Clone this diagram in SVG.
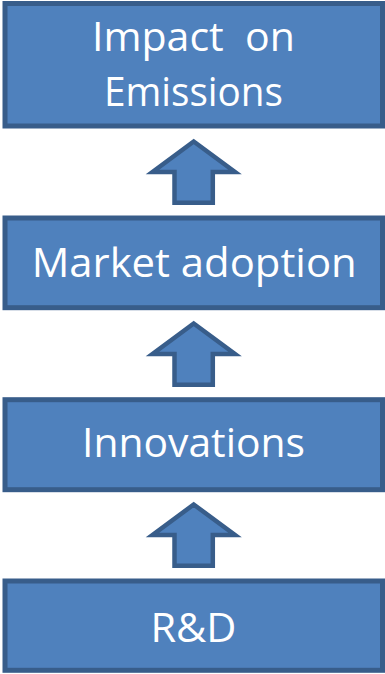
<svg xmlns="http://www.w3.org/2000/svg" xmlns:xlink="http://www.w3.org/1999/xlink" width="385" height="674" viewBox="0 0 385 674">
<style>
.box{fill:#4F81BD;stroke:#385D8A;stroke-width:5}
.arrow{fill:#4F81BD;stroke:#385D8A;stroke-width:4.5;stroke-linejoin:miter}
.lbl{fill:#FFFFFF;font-family:"Open Sans","Liberation Sans",sans-serif;font-size:40px;text-anchor:middle;white-space:pre}
</style>
<defs>
<path id="uparrow" d="M193.7,141.5 L235,172 L212.8,172 L212.8,202.7 L174.5,202.7 L174.5,172 L152.5,172 Z"/>
</defs>
<g id="connectors">
<use xlink:href="#uparrow" class="arrow"/>
<use xlink:href="#uparrow" class="arrow" transform="translate(0,182)"/>
<use xlink:href="#uparrow" class="arrow" transform="translate(0,363)"/>
</g>
<g id="impact">
<rect class="box" x="5" y="3.5" width="377.5" height="122.5"/>
<text class="lbl" x="193.5" y="50.7" textLength="203" lengthAdjust="spacingAndGlyphs" xml:space="preserve">Impact  on</text>
<text class="lbl" x="193.5" y="105.7" textLength="179" lengthAdjust="spacingAndGlyphs">Emissions</text>
</g>
<g id="market">
<rect class="box" x="5" y="218" width="377.5" height="89.7"/>
<text class="lbl" x="194.2" y="277.3" textLength="325" lengthAdjust="spacingAndGlyphs">Market adoption</text>
</g>
<g id="innovations">
<rect class="box" x="5" y="399.7" width="377.5" height="90"/>
<text class="lbl" x="193.5" y="456.7" textLength="223" lengthAdjust="spacingAndGlyphs">Innovations</text>
</g>
<g id="rnd">
<rect class="box" x="5" y="581" width="377.5" height="89.3"/>
<text class="lbl" x="193.5" y="641.7" textLength="86" lengthAdjust="spacingAndGlyphs">R&amp;D</text>
</g>
</svg>
